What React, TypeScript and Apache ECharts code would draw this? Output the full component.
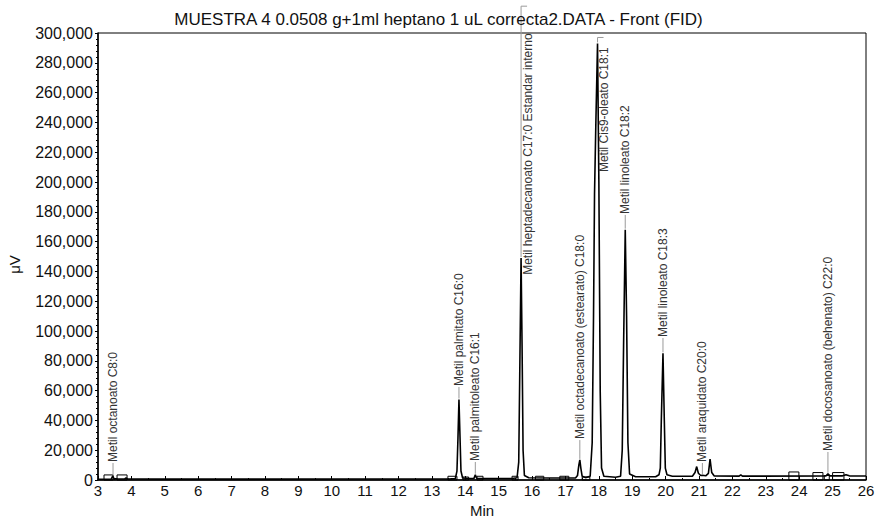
import React, { useEffect, useRef } from "react";
import * as echarts from "echarts";

const titleText = "MUESTRA 4 0.0508 g+1ml heptano 1 uL correcta2.DATA - Front (FID)";

// chromatogram trace: [min, µV]
const trace: number[][] = [
  [3.0, 500], [3.3, 550], [3.4, 700], [3.44, 2600], [3.48, 900], [3.6, 650],
  [3.8, 700], [3.84, 1400], [3.88, 700], [5.0, 600], [8.0, 600], [11.0, 650],
  [13.5, 700], [13.7, 900], [13.75, 6000], [13.78, 28000], [13.81, 54000],
  [13.84, 30000], [13.87, 6000], [13.92, 1300], [14.1, 1000], [14.26, 1100],
  [14.3, 3500], [14.34, 1200], [14.6, 1000], [15.4, 1000], [15.55, 1500],
  [15.6, 12000], [15.63, 70000], [15.67, 149000], [15.7, 90000], [15.73, 20000],
  [15.77, 3000], [15.9, 1500], [16.5, 1300], [17.3, 1300], [17.36, 3000],
  [17.4, 10000], [17.43, 13500], [17.46, 8000], [17.5, 2500], [17.6, 1600],
  [17.74, 2500], [17.8, 25000], [17.84, 110000], [17.87, 192000], [17.91, 240000],
  [17.96, 293000], [18.0, 200000], [18.04, 60000], [18.08, 8000], [18.15, 2500],
  [18.5, 1800], [18.65, 2500], [18.7, 20000], [18.74, 90000], [18.79, 168000],
  [18.83, 110000], [18.87, 25000], [18.92, 4000], [19.1, 2200], [19.7, 2200],
  [19.8, 3500], [19.84, 8000], [19.87, 40000], [19.92, 85000], [19.96, 40000],
  [19.99, 8000], [20.04, 3500], [20.2, 2500], [20.8, 2500], [20.88, 5000],
  [20.93, 9000], [20.98, 4500], [21.05, 3000], [21.1, 3200], [21.2, 2800],
  [21.28, 4500], [21.33, 14000], [21.38, 5000], [21.45, 2800], [22.2, 2600],
  [22.25, 3500], [22.3, 2600], [24.8, 2700], [24.86, 4200], [24.92, 2800],
  [25.3, 2800], [25.4, 3600], [25.5, 2800], [26.0, 2700],
];

// peak labels
const peakNames = [
  "Metil octanoato C8:0",
  "Metil palmitato C16:0",
  "Metil palmitoleato C16:1",
  "Metil heptadecanoato C17:0 Estandar interno",
  "Metil octadecanoato (estearato) C18:0",
  "Metil Cis9-oleato C18:1",
  "Metil linoleato C18:2",
  "Metil linoleato C18:3",
  "Metil araquidato C20:0",
  "Metil docosanoato (behenato) C22:0",
];
const peakTimes = [3.45, 13.81, 14.3, 15.67, 17.43, 17.96, 18.79, 19.92, 21.1, 24.86];
const peakHeights = [2600, 54000, 3500, 149000, 13500, 293000, 168000, 85000, 3200, 4200];
const labelBase = [11400, 62400, 12100, 137000, 26800, 206000, 177900, 95300, 11400, 18800];
const leaderTop = [11400, 62400, 12100, 318000, 26800, 297000, 177900, 95300, 11400, 18800];
const labelShift = [0, 0, 0, 7, 0, 6, 0, 0, 0, 0];

// integration baseline boxes: [start, end, height]
const boxes: number[][] = [
  [3.18, 3.45, 3400], [3.57, 3.87, 3400], [13.48, 13.75, 2500], [13.93, 14.1, 2000],
  [14.35, 14.53, 2500], [15.4, 15.58, 2500], [16.1, 16.35, 2500], [16.83, 17.1, 2500],
  [17.5, 17.73, 2000], [23.69, 23.99, 5400], [24.41, 24.71, 5000], [24.75, 24.9, 3000],
  [25.0, 25.34, 5000],
];

const FONT = "Liberation Sans, Arial, sans-serif";

export default function App() {
  const ref = useRef<HTMLDivElement>(null);
  useEffect(() => {
    if (!ref.current) return;
    const chart = echarts.init(ref.current, null, { renderer: "svg" });
    const labelData = peakNames.map((n, i) => [
      peakTimes[i], peakHeights[i], labelBase[i], leaderTop[i], labelShift[i], i,
    ]);
    chart.setOption({
      animation: false,
      backgroundColor: "#fff",
      textStyle: { fontFamily: FONT },
      title: {
        text: titleText,
        left: "center",
        top: 6,
        textStyle: { fontSize: 17, fontWeight: "normal", color: "#111", fontFamily: FONT },
      },
      grid: {
        left: 98, right: 11, top: 33, bottom: 39,
        outerBoundsMode: "none",
        containLabel: false,
        show: true, borderColor: "#000", borderWidth: 1,
      },
      xAxis: {
        type: "value", min: 3, max: 26, interval: 1,
        name: "Min", nameLocation: "middle", nameGap: 19,
        nameTextStyle: { fontSize: 15, color: "#111", fontFamily: FONT },
        axisLine: { lineStyle: { color: "#000", width: 1.5 } },
        axisTick: { show: true, inside: true, length: 4, lineStyle: { color: "#000" } },
        minorTick: { show: true, splitNumber: 2, length: 2, lineStyle: { color: "#000" } },
        axisLabel: { fontSize: 15, color: "#111", margin: 3, fontFamily: FONT },
        splitLine: { show: false },
      },
      yAxis: {
        type: "value", min: 0, max: 300000, interval: 20000,
        name: "μV", nameLocation: "middle", nameGap: 76, nameRotate: 90,
        nameTextStyle: { fontSize: 15, color: "#111", fontFamily: FONT, padding: [0, 16, 0, 0] },
        axisLine: { show: true, lineStyle: { color: "#000", width: 1.5 } },
        axisTick: { show: true, inside: false, length: 3, lineStyle: { color: "#000" } },
        minorTick: { show: true, splitNumber: 5, length: 2, lineStyle: { color: "#000" } },
        axisLabel: {
          fontSize: 16, color: "#111", margin: 5, fontFamily: FONT,
          formatter: (v: number) => v.toLocaleString("en-US"),
        },
        splitLine: { show: false },
      },
      series: [
        {
          type: "custom",
          name: "boxes",
          data: boxes,
          renderItem: (params: any, api: any) => {
            const p0 = api.coord([api.value(0), 0]);
            const p1 = api.coord([api.value(1), api.value(2)]);
            return {
              type: "rect",
              shape: { x: p0[0], y: p1[1], width: p1[0] - p0[0], height: p0[1] - p1[1] },
              style: { fill: "none", stroke: "#000", lineWidth: 1 },
            };
          },
          z: 2,
        },
        {
          type: "line",
          name: "FID",
          data: trace,
          showSymbol: false,
          symbol: "none",
          lineStyle: { color: "#000", width: 1.6 },
          z: 3,
        },
        {
          type: "custom",
          name: "labels",
          data: labelData,
          clip: false,
          renderItem: (params: any, api: any) => {
            const x = api.value(0);
            const pk = api.coord([x, api.value(1)]);
            const lb = api.coord([x, api.value(2)]);
            const tp = api.coord([x, api.value(3)]);
            const dx = api.value(4);
            const idx = api.value(5);
            const children: any[] = [
              {
                type: "line",
                shape: { x1: pk[0], y1: pk[1] - 1, x2: tp[0], y2: tp[1] },
                style: { stroke: "#9a9a9a", lineWidth: 1 },
              },
              {
                type: "text",
                x: lb[0] + dx,
                y: lb[1] - 1,
                rotation: Math.PI / 2,
                style: {
                  text: peakNames[idx],
                  fill: "#333",
                  font: `12px ${FONT}`,
                  align: "left",
                  verticalAlign: "middle",
                },
              },
            ];
            if (api.value(3) > api.value(2)) {
              children.push({
                type: "line",
                shape: { x1: tp[0], y1: tp[1], x2: tp[0] + 6, y2: tp[1] },
                style: { stroke: "#9a9a9a", lineWidth: 1 },
              });
            }
            return { type: "group", children };
          },
          z: 4,
        },
      ],
    });
    return () => chart.dispose();
  }, []);
  return (
    <div
      ref={ref}
      style={{ position: "fixed", left: 0, top: 0, width: 877, height: 519 }}
    />
  );
}
